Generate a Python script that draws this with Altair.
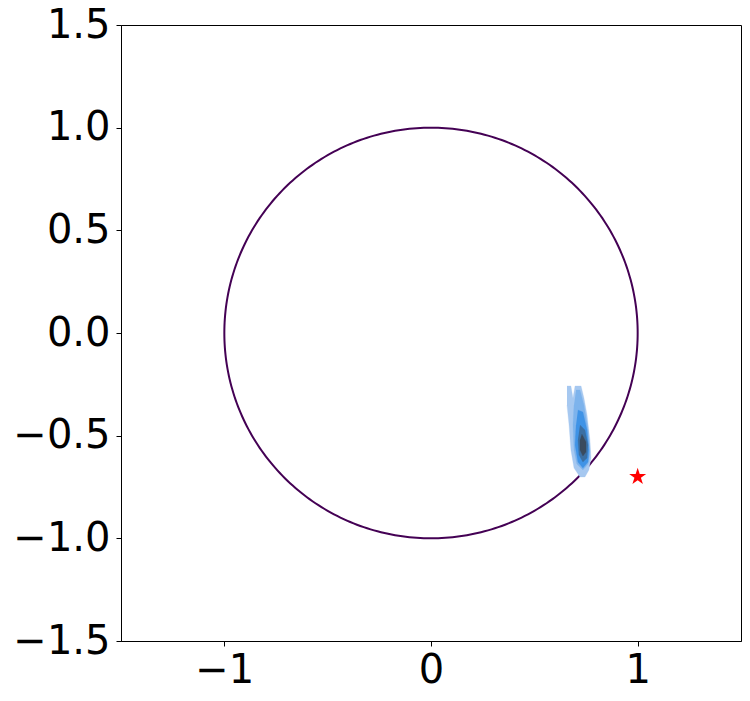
import altair as alt
import numpy as np
import pandas as pd

# Unit circle (reference boundary)
circle_angle = np.linspace(0, 2 * np.pi, 361)
circle_df = pd.DataFrame({"x": np.cos(circle_angle), "y": np.sin(circle_angle), "i": np.arange(361)})

# Target star
star_x = [1.0]
star_y = [-0.7]

# Density contour polygons (outer -> inner)
lvl1_x = [0.658, 0.677, 0.687, 0.697, 0.726, 0.740, 0.755, 0.769, 0.774, 0.764, 0.745, 0.721, 0.692, 0.677, 0.668, 0.658]
lvl1_y = [-0.258, -0.258, -0.317, -0.258, -0.258, -0.317, -0.399, -0.521, -0.609, -0.667, -0.701, -0.701, -0.658, -0.570, -0.448, -0.351]
lvl2_x = [0.702, 0.721, 0.740, 0.760, 0.769, 0.760, 0.735, 0.706, 0.692, 0.687, 0.692]
lvl2_y = [-0.278, -0.278, -0.351, -0.472, -0.580, -0.638, -0.667, -0.638, -0.570, -0.448, -0.351]
lvl3_x = [0.711, 0.735, 0.755, 0.764, 0.760, 0.735, 0.711, 0.697, 0.702]
lvl3_y = [-0.375, -0.385, -0.472, -0.570, -0.628, -0.658, -0.628, -0.546, -0.448]
lvl4_x = [0.721, 0.745, 0.760, 0.755, 0.735, 0.716, 0.711]
lvl4_y = [-0.448, -0.472, -0.546, -0.609, -0.628, -0.594, -0.521]
lvl5_x = [0.730, 0.750, 0.750, 0.735, 0.721, 0.721]
lvl5_y = [-0.492, -0.531, -0.580, -0.599, -0.570, -0.521]
level_colors = ["#a6c8f0", "#7db3ec", "#3f93e6", "#3b6fa3", "#3a4b5e"]

levels = [(lvl1_x, lvl1_y), (lvl2_x, lvl2_y), (lvl3_x, lvl3_y), (lvl4_x, lvl4_y), (lvl5_x, lvl5_y)]

rows = []
for k, (lx, ly) in enumerate(levels):
    for j, (a, b) in enumerate(zip(lx, ly)):
        rows.append({"x": a, "y": b, "i": j, "level": k})
poly_df = pd.DataFrame(rows)

STAR_PATH = ("M0,-1 L0.225,-0.309 L0.951,-0.309 L0.363,0.118 L0.588,0.809 L0,0.382 "
             "L-0.588,0.809 L-0.363,0.118 L-0.951,-0.309 L-0.225,-0.309 Z")

xs = alt.Scale(domain=[-1.5, 1.5], nice=False, zero=False)
ys = alt.Scale(domain=[-1.5, 1.5], nice=False, zero=False)
xax = alt.Axis(values=[-1, 0, 1], format="d", title=None, grid=False)
yax = alt.Axis(values=[-1.5, -1.0, -0.5, 0.0, 0.5, 1.0, 1.5], format=".1f", title=None, grid=False)

circle = alt.Chart(circle_df).mark_line(color="#440154", strokeWidth=2).encode(
    x=alt.X("x:Q", scale=xs, axis=xax),
    y=alt.Y("y:Q", scale=ys, axis=yax),
    order="i:Q",
)

layers = []
for k, col in enumerate(level_colors):
    layers.append(
        alt.Chart(poly_df).transform_filter(alt.datum.level == k).mark_line(
            fill=col, stroke=col, strokeWidth=0.3
        ).encode(x="x:Q", y="y:Q", order="i:Q")
    )

star = alt.Chart(pd.DataFrame({"x": star_x, "y": star_y})).mark_point(
    shape=STAR_PATH, filled=True, color="red", size=320, opacity=1
).encode(x="x:Q", y="y:Q")

chart = alt.layer(circle, *layers, star).properties(
    width=620,
    height=616,
    autosize=alt.AutoSizeParams(type="none"),
    padding={"left": 113, "top": 17, "right": 1, "bottom": 50},
).configure_view(stroke="black", strokeWidth=1).configure_axis(
    labelFont="DejaVu Sans",
    labelFontSize=40,
    labelColor="black",
    domainColor="black",
    tickColor="black",
    tickSize=5,
    labelPadding=6,
    domainWidth=1,
    tickWidth=1,
).configure_axisX(labelPadding=4)

chart.save("out.html", embed_options={"renderer": "svg", "actions": False})
